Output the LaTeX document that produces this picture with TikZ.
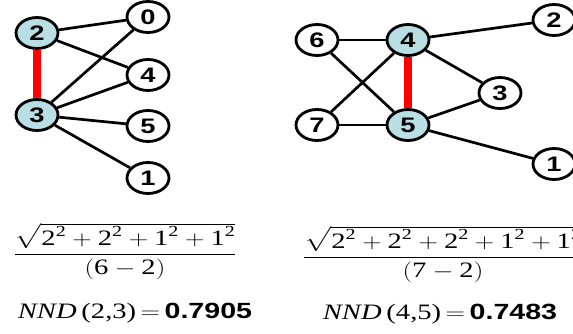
\documentclass[tikz,border=0pt]{standalone}
\usepackage{amsmath}
\usepackage{fontspec}
\setmainfont{Liberation Serif}
\newfontfamily\labelfont{Liberation Sans}
\usetikzlibrary{shapes.geometric}
\definecolor{hubblue}{RGB}{185,222,228}
\newcommand\tn[1]{\text{#1}}
\newcommand\sqt[1]{\tn{#1}^{\tn{2}}}
\newcommand\wide[1]{\scalebox{1.3}[1]{#1}}

\begin{document}
\begin{tikzpicture}[x=1pt,y=-1pt,
  vtx/.style={draw,ellipse,line width=2.8pt,fill=white,minimum width=42pt,minimum height=31pt,inner sep=0pt,font=\labelfont\bfseries\fontsize{21}{25}\selectfont},
  hub/.style={vtx,fill=hubblue},
  edge/.style={line width=2.7pt},
  pair/.style={line width=7.5pt,red},
  formula/.style={inner sep=0pt,font=\fontsize{22}{26}\selectfont}]
\useasboundingbox (0,0) rectangle (573,334);
% left graph
\node[hub] (l2) at (37,33) {\wide{2}};
\node[hub] (l3) at (37,115) {\wide{3}};
\node[vtx] (l0) at (148,17) {\wide{0}};
\node[vtx] (l4) at (148,75) {\wide{4}};
\node[vtx] (l5) at (148,126) {\wide{5}};
\node[vtx] (l1) at (148,178) {\wide{1}};
\draw[edge] (l2)--(l0);
\draw[edge] (l2)--(l4);
\draw[edge] (l3)--(l0);
\draw[edge] (l3)--(l4);
\draw[edge] (l3)--(l5);
\draw[edge] (l3)--(l1);
\draw[pair] (l2)--(l3);
% right graph
\node[vtx] (r6) at (317,40) {\wide{6}};
\node[hub] (r4) at (408,40) {\wide{4}};
\node[vtx] (r7) at (317,125) {\wide{7}};
\node[hub] (r5) at (408,125) {\wide{5}};
\node[vtx] (r3) at (500,93) {\wide{3}};
\node[vtx] (r2) at (554,20) {\wide{2}};
\node[vtx] (r1) at (554,164) {\wide{1}};
\draw[edge] (r6)--(r4);
\draw[edge] (r6)--(r5);
\draw[edge] (r7)--(r4);
\draw[edge] (r7)--(r5);
\draw[edge] (r4)--(r2);
\draw[edge] (r4)--(r3);
\draw[edge] (r5)--(r3);
\draw[edge] (r5)--(r1);
\draw[pair] (r4)--(r5);
% formulas
\node[formula] (lfrac) at (125,251) {\wide{$\dfrac{\sqrt{\sqt{2}+\sqt{2}+\sqt{1}+\sqt{1}}}{(\tn{6}-\tn{2})}$}};
\node[formula] (rfrac) at (443,254) {\wide{$\dfrac{\sqrt{\sqt{2}+\sqt{2}+\sqt{2}+\sqt{1}+\sqt{1}}}{(\tn{7}-\tn{2})}$}};
\node[formula] (lnnd) at (135,313) {\wide{\textit{NND}\,(2,3)$\,=\,${\labelfont\bfseries 0.7905}}};
\node[formula] (rnnd) at (440,314) {\wide{\textit{NND}\,(4,5)$\,=\,${\labelfont\bfseries 0.7483}}};
\end{tikzpicture}
\end{document}
